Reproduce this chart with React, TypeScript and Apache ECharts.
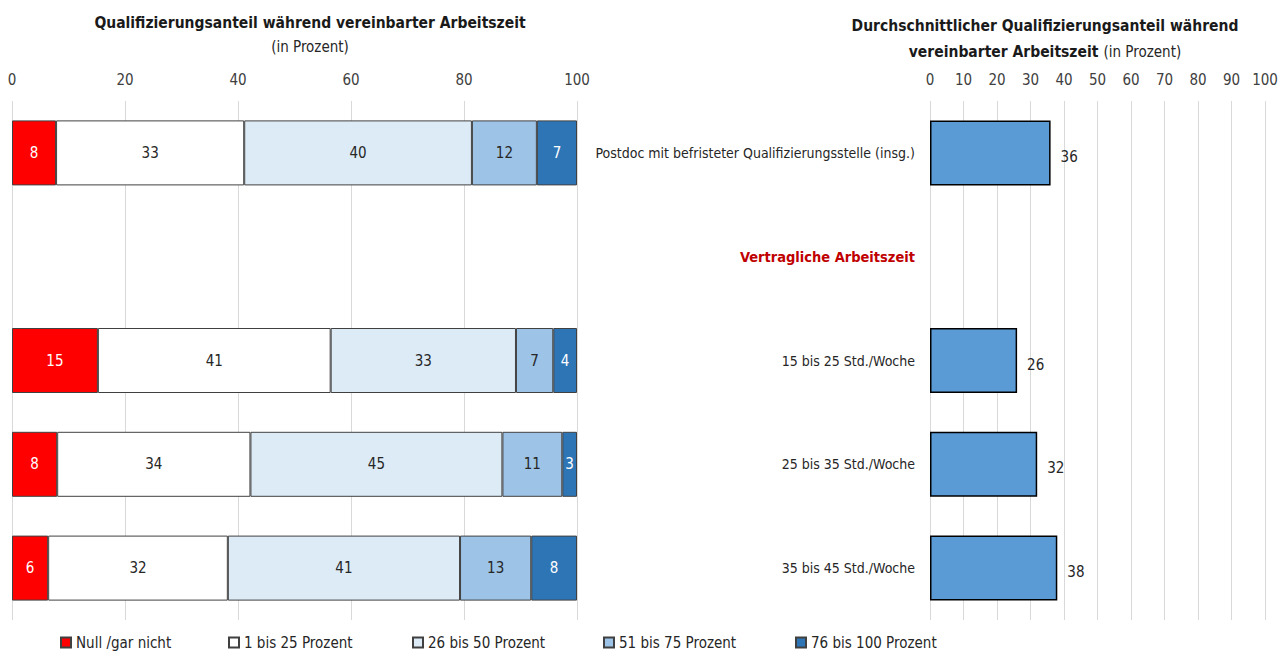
import React, { useEffect, useRef } from "react";
import * as echarts from "echarts";

const categories = [
  "Postdoc mit befristeter Qualifizierungsstelle (insg.)",
  "Vertragliche Arbeitszeit",
  "15 bis 25 Std./Woche",
  "25 bis 35 Std./Woche",
  "35 bis 45 Std./Woche",
];

const seriesNames = [
  "Null /gar nicht",
  "1 bis 25 Prozent",
  "26 bis 50 Prozent",
  "51 bis 75 Prozent",
  "76 bis 100 Prozent",
];

// shares per row (null = heading row)
const nullGarNicht = [7.8, null, 15.2, 8.0, 6.4];
const bis25 = [33.3, null, 41.2, 34.2, 31.8];
const bis50 = [40.3, null, 32.8, 44.6, 41.1];
const bis75 = [11.5, null, 6.6, 10.6, 12.6];
const bis100 = [7.1, null, 4.2, 2.6, 8.1];

const averageShare = [36, null, 26, 32, 38];

const leftTicks = [0, 20, 40, 60, 80, 100];
const rightTicks = [0, 10, 20, 30, 40, 50, 60, 70, 80, 90, 100];

const colors = ["#FF0000", "#FFFFFF", "#DDEBF7", "#9DC3E6", "#2E75B6"];
const labelColors = ["#FFFFFF", "#262626", "#262626", "#262626", "#FFFFFF"];
const legendLefts = [55, 223, 407, 598, 790];

const FONT = "'Liberation Sans Narrow', 'DejaVu Sans Condensed', 'Open Sans', sans-serif";

export default function App() {
  const ref = useRef<HTMLDivElement>(null);
  useEffect(() => {
    document.body.style.margin = "0";
    if (!ref.current) return;
    const chart = echarts.init(ref.current, null, { renderer: "svg" });
    const stacks = [nullGarNicht, bis25, bis50, bis75, bis100];
    const leftSeries = stacks.map((d, i) => ({
      name: seriesNames[i],
      type: "bar",
      stack: "total",
      xAxisIndex: 0,
      yAxisIndex: 0,
      barWidth: 65,
      data: d.map((v) => (v === null ? "-" : v)),
      itemStyle: { color: colors[i], borderColor: "#404040", borderWidth: 1 },
      label: {
        show: true,
        position: "inside",
        color: labelColors[i],
        fontSize: 15,
        fontFamily: FONT,
        formatter: (p: any) => String(Math.round(p.value)),
      },
    }));
    const option: any = {
      animation: false,
      textStyle: { fontFamily: FONT },
      title: [
        {
          text: "Qualifizierungsanteil während vereinbarter Arbeitszeit",
          subtext: "(in Prozent)",
          left: 305,
          top: 10,
          textAlign: "center",
          itemGap: 8,
          textStyle: { fontSize: 15.5, fontWeight: "bold", color: "#1a1a1a", fontFamily: FONT },
          subtextStyle: { fontSize: 15, color: "#262626", fontFamily: FONT },
        },
        {
          text: "{b|Durchschnittlicher Qualifizierungsanteil während}\n{b|vereinbarter Arbeitszeit} {n|(in Prozent)}",
          left: 1040,
          top: 8,
          textAlign: "center",
          textStyle: {
            fontFamily: FONT,
            fontWeight: "normal",
            rich: {
              b: { fontSize: 15.5, fontWeight: "bold", color: "#1a1a1a", lineHeight: 26, fontFamily: FONT },
              n: { fontSize: 15, fontWeight: "normal", color: "#262626", lineHeight: 26, fontFamily: FONT },
            },
          },
        },
      ],
      legend: seriesNames.map((n, i) => ({
        data: [n],
        left: legendLefts[i],
        top: 630,
        icon: "rect",
        itemWidth: 10,
        itemHeight: 10,
        itemGap: 4,
        textStyle: { fontSize: 15, color: "#262626", fontFamily: FONT, padding: [0, 0, 0, 0] },
      })),
      grid: [
        { left: 12, width: 565, top: 101, height: 519 },
        { left: 930, width: 335, top: 101, height: 519 },
      ],
      xAxis: [
        {
          type: "value",
          gridIndex: 0,
          position: "top",
          min: 0,
          max: 100,
          interval: 20,
          axisLine: { show: false },
          axisTick: { show: false },
          splitLine: { show: true, lineStyle: { color: "#D9D9D9" } },
          axisLabel: {
            color: "#404040",
            fontSize: 15,
            margin: 14,
            fontFamily: FONT,
            formatter: (v: number) => (leftTicks.includes(v) ? String(v) : ""),
          },
        },
        {
          type: "value",
          gridIndex: 1,
          position: "top",
          min: 0,
          max: 100,
          interval: 10,
          axisLine: { show: false },
          axisTick: { show: false },
          splitLine: { show: true, lineStyle: { color: "#D9D9D9" } },
          axisLabel: {
            color: "#404040",
            fontSize: 15,
            margin: 14,
            fontFamily: FONT,
            formatter: (v: number) => (rightTicks.includes(v) ? String(v) : ""),
          },
        },
      ],
      yAxis: [
        {
          type: "category",
          gridIndex: 0,
          data: categories,
          inverse: true,
          axisLine: { show: false },
          axisTick: { show: false },
          axisLabel: { show: false },
        },
        {
          type: "category",
          gridIndex: 1,
          data: categories,
          inverse: true,
          axisLine: { show: false },
          axisTick: { show: false },
          axisLabel: {
            color: "#262626",
            fontSize: 14,
            margin: 15,
            fontFamily: FONT,
            formatter: (v: string) => (v === "Vertragliche Arbeitszeit" ? "{h|" + v + "}" : v),
            rich: {
              h: { color: "#C00000", fontWeight: "bold", fontSize: 14.5, fontFamily: FONT },
            },
          },
        },
      ],
      series: [
        ...leftSeries,
        {
          name: "Durchschnitt",
          type: "bar",
          xAxisIndex: 1,
          yAxisIndex: 1,
          barWidth: 65,
          data: averageShare.map((v) => (v === null ? "-" : v)),
          itemStyle: { color: "#5B9BD5", borderColor: "#000000", borderWidth: 1.5 },
          label: {
            show: true,
            position: "right",
            distance: 10,
            offset: [0, 4],
            color: "#262626",
            fontSize: 15,
            fontFamily: FONT,
          },
        },
      ],
    };
    chart.setOption(option);
    return () => chart.dispose();
  }, []);
  return <div ref={ref} style={{ width: 1287, height: 653 }} />;
}
